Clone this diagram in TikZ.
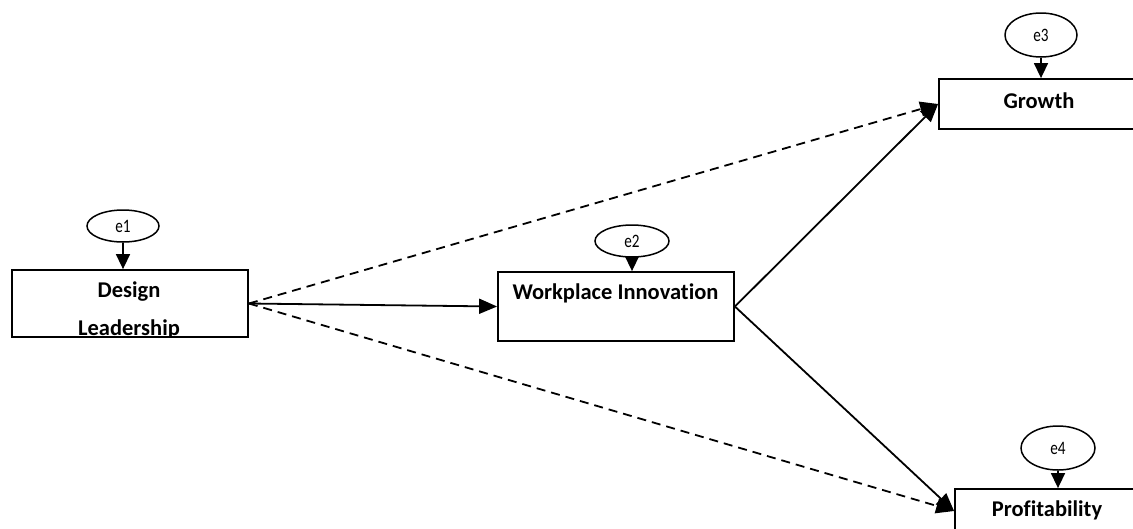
\documentclass[tikz,border=0pt]{standalone}
\usepackage{fontspec}
\setmainfont{Carlito}[Ligatures=NoCommon]
\usetikzlibrary{arrows.meta,shapes.geometric}
\tikzset{
  box/.style={draw, line width=1.8pt, fill=white, inner sep=0pt},
  lbl/.style={font=\fontsize{22.5}{26}\selectfont\bfseries, inner sep=0pt, anchor=base},
  err/.style={draw, ellipse, line width=1.5pt, fill=white, inner sep=0pt, font=\fontsize{19}{20}\selectfont},
  arr/.style={line width=1.8pt, -{Triangle[length=18pt,width=15pt]}},
  darr/.style={arr, dash pattern=on 9pt off 6pt},
  earr/.style={line width=1.5pt, -{Triangle[length=15pt,width=14pt]}}
}
\begin{document}
\begin{tikzpicture}[x=1pt,y=-1pt]
\useasboundingbox (0,0) rectangle (1133,528);
\clip (0,0) rectangle (1133,528);
% boxes
\node[box, minimum width=236pt, minimum height=67pt] (dl) at (130,303.5) {};
\node[box, minimum width=236pt, minimum height=69pt] (wi) at (616,306.5) {};
\node[box, minimum width=210pt, minimum height=50pt] (gr) at (1044,104) {};
\node[box, minimum width=200pt, minimum height=44pt] (pr) at (1055,511) {};
% texts
\node[lbl] (dlt1) at (129,297) {Design};
\begin{scope}
  \clip (12,270) rectangle (248,337);
  \node[lbl] (dlt2) at (129,335.5) {Leadership};
\end{scope}
\node[lbl] (wit) at (615.5,299) {Workplace Innovation};
\node[lbl] (grt) at (1039,108) {Growth};
\node[lbl] (prt) at (1047,516) {Profitability};
% error terms
\node[err, minimum width=72pt, minimum height=32pt] (e1) at (123,226) {\scalebox{0.8}[1]{e1}};
\node[err, minimum width=74pt, minimum height=32pt] (e2) at (632,241) {\scalebox{0.8}[1]{e2}};
\node[err, minimum width=72pt, minimum height=44pt] (e3) at (1041,35) {\scalebox{0.8}[1]{e3}};
\node[err, minimum width=74pt, minimum height=44pt] (e4) at (1058,448) {\scalebox{0.8}[1]{e4}};
\draw[earr] (e1.south) -- (e1.south |- dl.north);
\draw[earr] (e2.south) -- (e2.south |- wi.north);
\draw[earr] (e3.south) -- (e3.south |- gr.north);
\draw[earr] (e4.south) -- (e4.south |- pr.north);
% paths
\draw[arr] (dl.east) -- (wi.west);
\draw[darr] (dl.east) -- (gr.west);
\draw[darr] (dl.east) -- (pr.west);
\draw[arr] (wi.east) -- (gr.west);
\draw[arr] (wi.east) -- (pr.west);
\end{tikzpicture}
\end{document}
